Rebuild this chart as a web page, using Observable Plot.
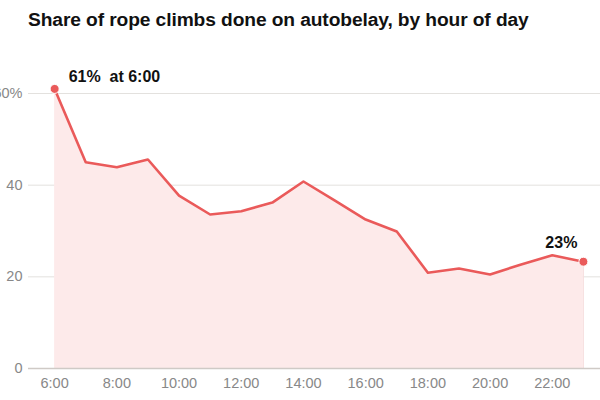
<!DOCTYPE html>
<html>
<head>
<meta charset="utf-8">
<script src="https://cdn.jsdelivr.net/npm/d3@7"></script>
<script src="https://cdn.jsdelivr.net/npm/@observablehq/plot@0.6"></script>
<style>
  html, body { margin: 0; padding: 0; background: #fff; overflow: hidden; }
  body { width: 600px; height: 400px; font-family: "Liberation Sans", Arial, Helvetica, sans-serif; }
  h2 { margin: 0; padding: 9px 0 0 28px; height: 40px; box-sizing: border-box; font-size: 19.2px; font-weight: bold; color: #111; letter-spacing: -0.1px; }
</style>
</head>
<body>
<h2>Share of rope climbs done on autobelay, by hour of day</h2>
<div id="chart"></div>
<script>
const hours = [6, 7, 8, 9, 10, 11, 12, 13, 14, 15, 16, 17, 18, 19, 20, 21, 22, 23];
const shares = [61, 45.0, 43.9, 45.6, 37.7, 33.6, 34.3, 36.2, 40.8, 36.7, 32.5, 29.9, 20.9, 21.8, 20.5, 22.7, 24.7, 23.3];
const xTicks = [6, 8, 10, 12, 14, 16, 18, 20, 22];
const yTicks = [0, 20, 40, 60];

const data = hours.map((h, i) => ({hour: h, share: shares[i]}));
const first = data[0];
const last = data[data.length - 1];

const red = "#ea5a5a";
const chart = Plot.plot({
  width: 600,
  height: 360,
  marginLeft: 28,
  marginRight: 0,
  marginTop: 53,
  marginBottom: 32,
  style: {fontFamily: '"Liberation Sans", Arial, Helvetica, sans-serif', fontSize: "14px", overflow: "visible"},
  x: {domain: [5.16, 23.55], ticks: xTicks, tickFormat: d => d + ":00", label: null},
  y: {domain: [0, 60], ticks: yTicks, tickFormat: d => d === 60 ? "60%" : String(d), label: null},
  marks: [
    Plot.gridY(yTicks.filter(d => d > 0), {stroke: "#e3e1de", strokeOpacity: 1, strokeWidth: 1}),
    Plot.areaY(data, {x: "hour", y: "share", fill: "#fdeaea", fillOpacity: 1}),
    Plot.ruleX([last.hour], {y1: 0, y2: last.share, stroke: "#f6dede", strokeWidth: 1}),
    Plot.ruleY([0], {stroke: "#cfcac6", strokeWidth: 1.5}),
    Plot.lineY(data, {x: "hour", y: "share", stroke: red, strokeWidth: 2.6, strokeLinejoin: "round"}),
    Plot.dot([first, last], {x: "hour", y: "share", r: 4.5, fill: red, stroke: "white", strokeWidth: 1}),
    Plot.text([first], {x: "hour", y: "share", text: d => `${d.share}%\u00a0\u00a0at ${d.hour}:00`, textAnchor: "start", dx: 14, dy: -12, fontWeight: "bold", fontSize: 16, fill: "#111"}),
    Plot.text([last], {x: "hour", y: "share", text: d => `${Math.round(d.share)}%`, textAnchor: "end", dx: -6, dy: -19, fontWeight: "bold", fontSize: 16, fill: "#111"}),
    Plot.axisX({ticks: xTicks, tickFormat: d => d + ":00", tickSize: 0, tickPadding: 9, color: "#888", fontSize: 14.5, label: null}),
    Plot.axisY({ticks: yTicks, tickFormat: d => d === 60 ? "60%" : String(d), tickSize: 0, tickPadding: 6, color: "#888", fontSize: 14.5, label: null})
  ]
});
document.getElementById("chart").appendChild(chart);
</script>
</body>
</html>
